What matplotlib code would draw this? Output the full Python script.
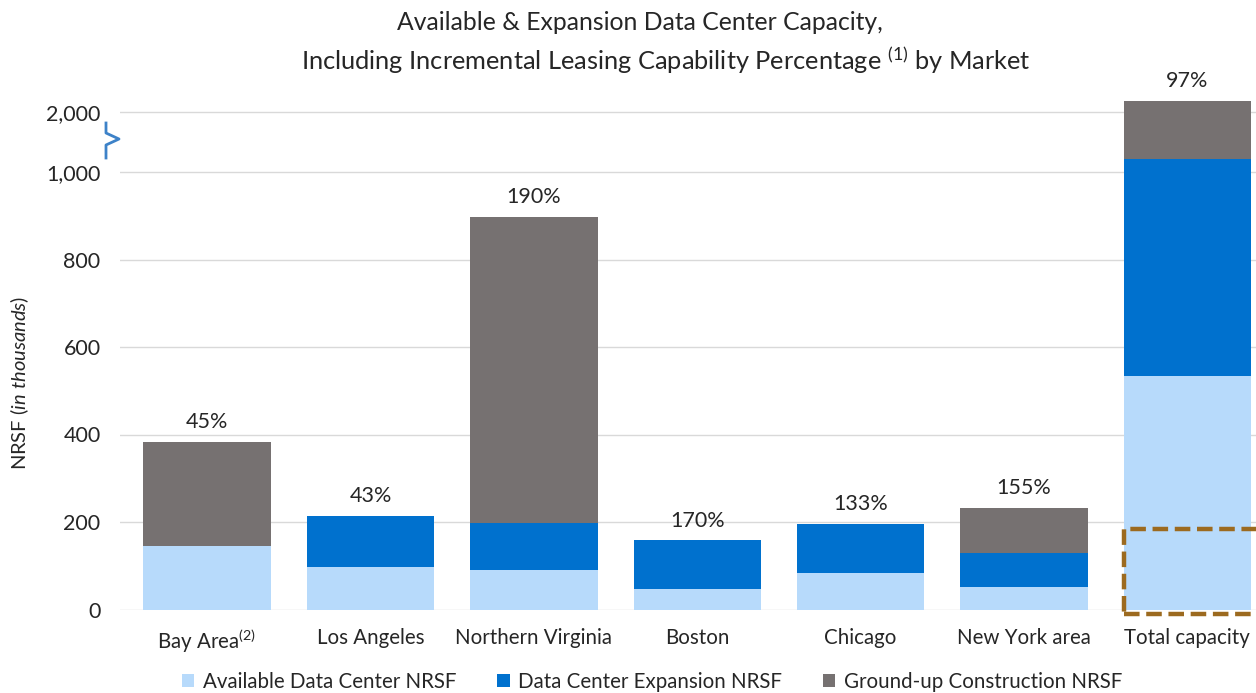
import numpy as np
import matplotlib
matplotlib.use('Agg')
import matplotlib.pyplot as plt
from matplotlib.patches import Rectangle

plt.rcParams['font.family'] = ['Lato', 'DejaVu Sans']
plt.rcParams['mathtext.fontset'] = 'custom'
plt.rcParams['mathtext.rm'] = 'Lato'
plt.rcParams['mathtext.it'] = 'Lato:italic'

# data (thousands of NRSF)
markets = ['Bay Area$^{(2)}$', 'Los Angeles', 'Northern Virginia', 'Boston',
           'Chicago', 'New York area', 'Total capacity']
available = [146, 97, 91, 48, 84, 51, 534]
expansion = [0, 117, 106, 110, 111, 79, 496]
ground_up = [238, 0, 701, 0, 0, 102, 1220]
pct_labels = ['45%', '43%', '190%', '170%', '133%', '155%', '97%']
yticks = [0, 200, 400, 600, 800, 1000, 2000]

# broken y axis: linear up to BRK, compressed above
BRK = 1040
K = 0.1017

def fwd(y):
    y = np.asarray(y, dtype=float)
    return np.where(y <= BRK, y, BRK + (y - BRK) * K)

def inv(d):
    d = np.asarray(d, dtype=float)
    return np.where(d <= BRK, d, BRK + (d - BRK) / K)

c_avail = '#b7dafb'
c_exp = '#0071ce'
c_gnd = '#767171'
txt = '#262626'

W, H = 1256, 693
fig = plt.figure(figsize=(W / 100, H / 100), dpi=100)
ax = fig.add_axes([120 / W, (H - 609.5) / H, 1 - 120 / W, (609.5 - 95) / H])
ax.set_yscale('function', functions=(fwd, inv))

x = np.arange(len(markets))
av = np.array(available)
ex = np.array(expansion)
gr = np.array(ground_up)
bw = 0.78
ax.bar(x, av, bw, color=c_avail, label='Available Data Center NRSF', zorder=2)
ax.bar(x, ex, bw, bottom=av, color=c_exp, label='Data Center Expansion NRSF', zorder=2)
ax.bar(x, gr, bw, bottom=av + ex, color=c_gnd, label='Ground-up Construction NRSF', zorder=2)

tops = av + ex + gr
for xi, t, lab in zip(x, tops, pct_labels):
    ax.annotate(lab, (xi, t), xytext=(0, 7), textcoords='offset points',
                ha='center', va='bottom', fontsize=15.5, color=txt)

ax.set_xlim(-0.533, 6.42)
ax.set_ylim(0, inv(1176))
ax.set_yticks(yticks)
ax.set_yticklabels([f'{v:,}' for v in yticks])
ax.set_xticks(x)
ax.set_xticklabels(markets)
ax.tick_params(length=0, colors=txt)
ax.tick_params(axis='x', pad=13, labelsize=14.8)
ax.tick_params(axis='y', pad=14, labelsize=15.5)
ax.grid(axis='y', color='#d9d9d9', lw=1, zorder=0)
for s in ax.spines.values():
    s.set_visible(False)

# highlight box on the total bar
ax.add_patch(Rectangle((x[-1] - bw / 2, -10), 1.2, 194, fill=False,
                       edgecolor='#9c6a1f', lw=3.2, ls=(0, (3.5, 1.5)),
                       clip_on=False, zorder=3))

# axis break marker
bx = [106, 106, 119, 106, 106]
by = [123, 133, 139, 145, 158]
fig.add_artist(plt.Line2D([v / W for v in bx], [1 - v / H for v in by],
                          color='#3d82c8', lw=2))

ax.set_ylabel(r'NRSF $\it{(in\ thousands)}$', fontsize=14.5, color=txt)
ax.yaxis.set_label_coords(-0.078, 0.44)

fig.text(640 / W, 1 - 22 / H, 'Available & Expansion Data Center Capacity,',
         ha='center', va='center', fontsize=17.8, color=txt)
fig.text(666 / W, 1 - 60 / H,
         'Including Incremental Leasing Capability Percentage $^{(1)}$ by Market',
         ha='center', va='center', fontsize=18.3, color=txt)

fig.legend(loc='center', bbox_to_anchor=(652 / W, 1 - 682 / H), ncol=3,
           frameon=False, fontsize=14.8, handlelength=0.6, handleheight=0.6,
           handletextpad=0.4, columnspacing=2.0, labelcolor=txt)

fig.savefig('out.png', dpi=100)
